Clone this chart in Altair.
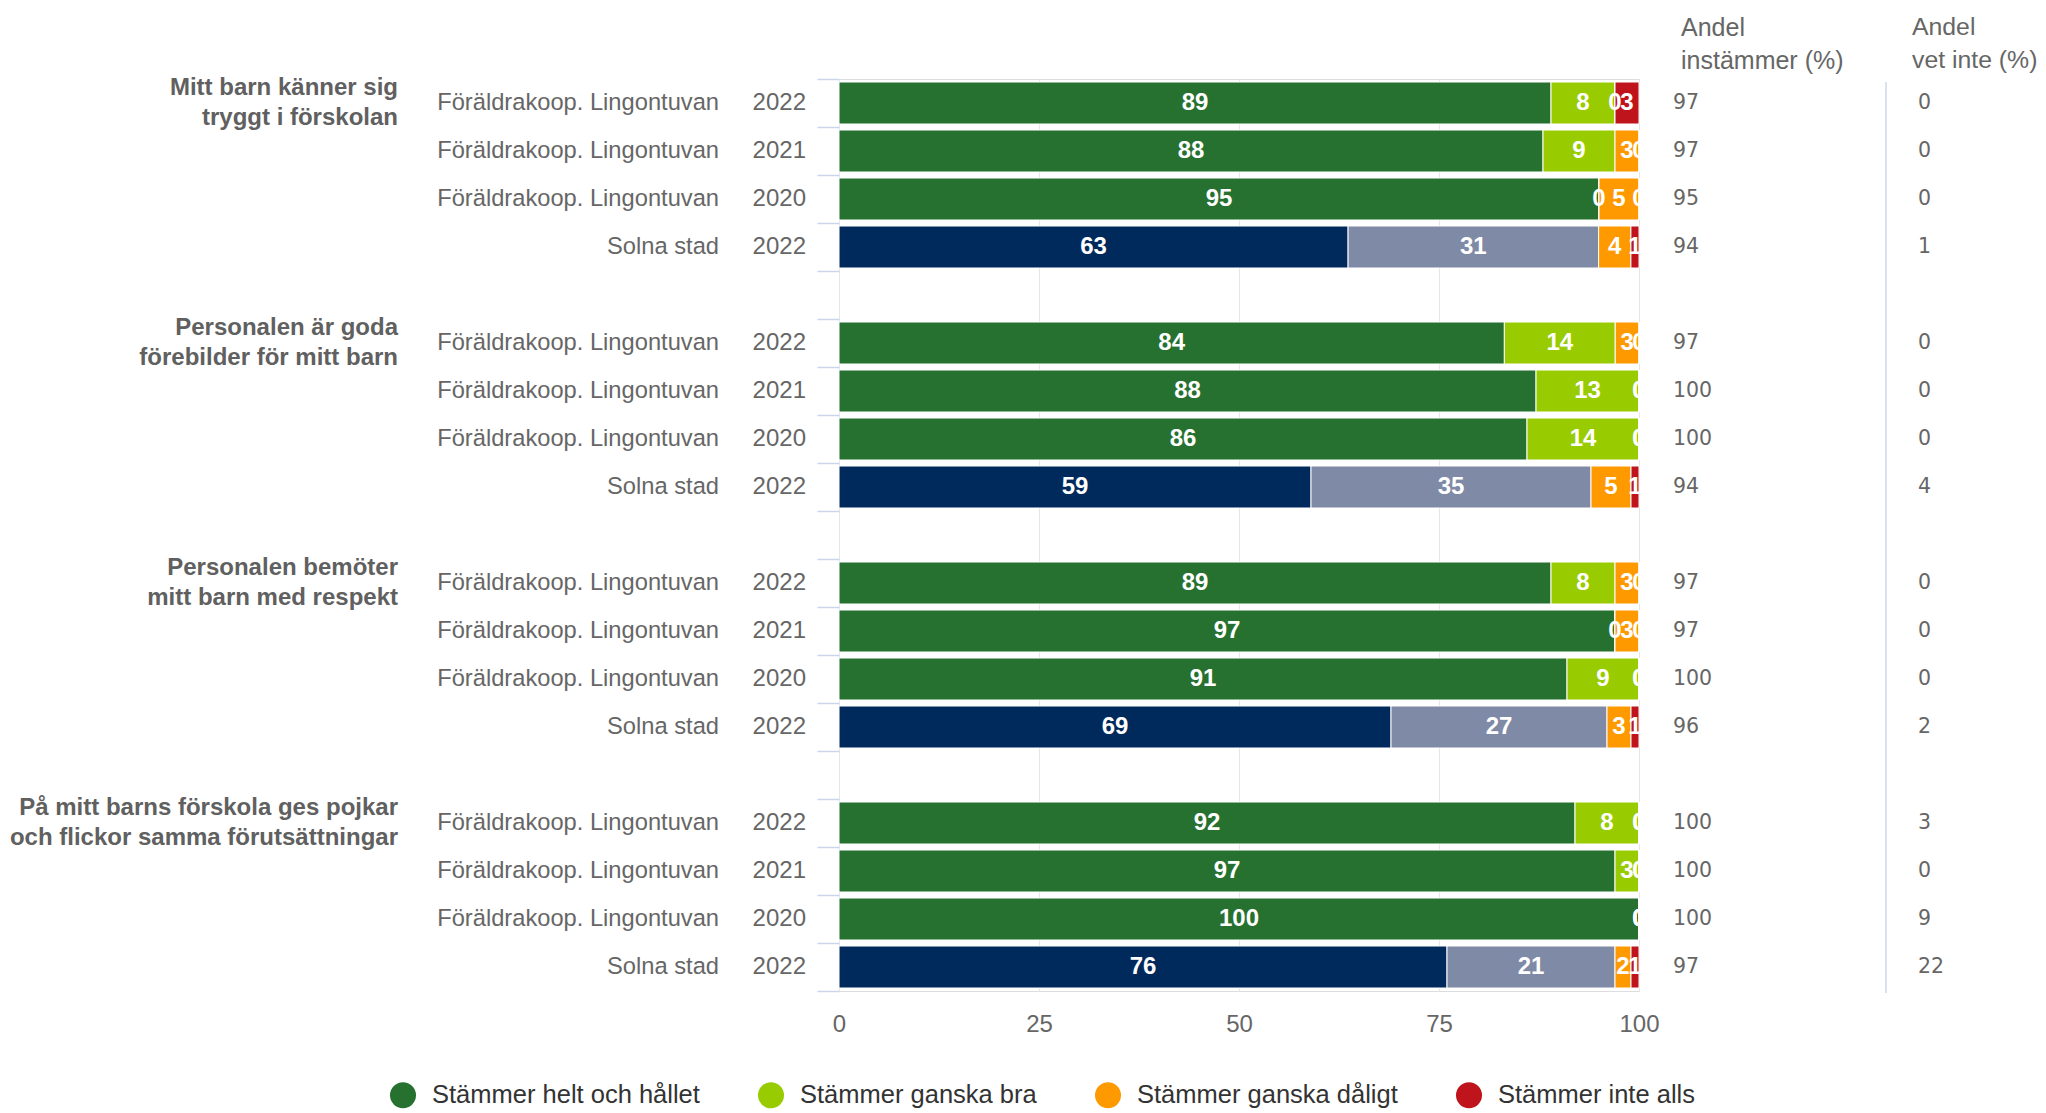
import altair as alt
import pandas as pd

# ---------------- data ----------------
questions = [
    "Mitt barn känner sig\ntryggt i förskolan",
    "Personalen är goda\nförebilder för mitt barn",
    "Personalen bemöter\nmitt barn med respekt",
    "På mitt barns förskola ges pojkar\noch flickor samma förutsättningar",
]
units = ["Föräldrakoop. Lingontuvan", "Föräldrakoop. Lingontuvan", "Föräldrakoop. Lingontuvan", "Solna stad"]
years = ["2022", "2021", "2020", "2022"]
categories = ["Stämmer helt och hållet", "Stämmer ganska bra", "Stämmer ganska dåligt", "Stämmer inte alls"]
solna_keys = ["Solna helt och hållet", "Solna ganska bra"]

helt = [89, 88, 95, 63, 84, 88, 86, 59, 89, 97, 91, 69, 92, 97, 100, 76]
bra = [8, 9, 0, 31, 14, 13, 14, 35, 8, 0, 9, 27, 8, 3, 0, 21]
daligt = [0, 3, 5, 4, 3, 0, 0, 5, 3, 3, 0, 3, 0, 0, 0, 2]
inte = [3, 0, 0, 1, 0, 0, 0, 1, 0, 0, 0, 1, 0, 0, 0, 1]
instammer = [97, 97, 95, 94, 97, 100, 100, 94, 97, 97, 100, 96, 100, 100, 100, 97]
vet_inte = [0, 0, 0, 1, 0, 0, 0, 4, 0, 0, 0, 2, 3, 0, 9, 22]

header_instammer = "Andel\ninstämmer (%)"
header_vetinte = "Andel\nvet inte (%)"
x_ticks = [0, 25, 50, 75, 100]

colors = ["#26712f", "#99cc00", "#ff9900", "#c0141c", "#002a5c", "#7f8aa6"]

# ---------------- tables ----------------
seg_rows, row_rows, q_rows = [], [], []
for i in range(16):
    g, r = divmod(i, 4)
    slot = g * 5 + r
    vals = [helt[i], bra[i], daligt[i], inte[i]]
    total = sum(vals)
    cum = 0.0
    for k, v in enumerate(vals):
        key = categories[k]
        if r == 3 and k < 2:
            key = solna_keys[k]
        x0 = cum / total * 100
        cum += v
        x1 = cum / total * 100
        seg_rows.append(dict(slot=slot, key=key, value=v, x0=x0, x1=x1, xm=(x0 + x1) / 2, order=k))
    row_rows.append(dict(slot=slot, unit=units[r], year=years[r], inst=instammer[i], vet=vet_inte[i]))
for g, q in enumerate(questions):
    q_rows.append(dict(slot=g * 5, q=q))

seg = pd.DataFrame(seg_rows)
rows = pd.DataFrame(row_rows)
qdf = pd.DataFrame(q_rows)

# ---------------- encodings ----------------
y_scale = alt.Scale(domain=[-0.5, 18.5], reverse=True, nice=False, zero=False, padding=0)
y_axis = alt.Axis(values=[v - 0.5 for v in range(20)], labels=False, ticks=True, tickSize=22,
                  tickColor="#ccd6eb", tickWidth=1.5, domain=False, grid=False, title=None)
y_enc = alt.Y("slot:Q", scale=y_scale, axis=y_axis)

x_scale = alt.Scale(domain=[0, 100], nice=False, zero=True, padding=0)
x_axis = alt.Axis(values=x_ticks, grid=True, gridColor="#e6e6e6", domain=False, ticks=False,
                  labelFontSize=24, labelColor="#666666", labelPadding=21, title=None,
                  labelFont="Liberation Sans", labelFlush=False)

FONT = "Liberation Sans"

bars = alt.Chart(seg).mark_bar(size=42, orient="horizontal", stroke="white", strokeWidth=1).encode(
    x=alt.X("x0:Q", scale=x_scale, axis=x_axis),
    x2="x1:Q",
    y=y_enc,
    color=alt.Color(
        "key:N",
        scale=alt.Scale(domain=categories + solna_keys, range=colors),
        legend=alt.Legend(
            values=categories, orient="none", legendX=-449, legendY=1003,
            direction="horizontal", title=None, symbolType="circle", symbolSize=676,
            symbolStrokeWidth=0, labelFontSize=25.5, labelColor="#333333", labelFont=FONT,
            labelOffset=16, columnPadding=58, labelLimit=600,
        ),
    ),
    order="order:Q",
)

seg_labels = alt.Chart(seg).mark_text(color="white", fontWeight="bold", fontSize=24, font=FONT,
                                      clip=True, baseline="middle").encode(
    x=alt.X("xm:Q", scale=x_scale, axis=x_axis),
    y=y_enc,
    text="value:Q",
)

unit_text = alt.Chart(rows).mark_text(align="right", baseline="middle", fontSize=23.7,
                                      color="#666666", font=FONT).encode(
    x=alt.value(-120), y=y_enc, text="unit:N")

year_text = alt.Chart(rows).mark_text(align="right", baseline="middle", fontSize=24,
                                      color="#666666", font=FONT).encode(
    x=alt.value(-33), y=y_enc, text="year:N")

q_text = alt.Chart(qdf).mark_text(align="right", baseline="middle", fontSize=24, fontWeight="bold",
                                  color="#606060", font=FONT, lineBreak="\n", lineHeight=30,
                                  dy=-15).encode(
    x=alt.value(-441), y=y_enc, text="q:N")

inst_text = alt.Chart(rows).mark_text(align="left", baseline="middle", fontSize=20.5,
                                      color="#666666", font="DejaVu Sans").encode(
    x=alt.value(834), y=y_enc, text="inst:Q")

vet_text = alt.Chart(rows).mark_text(align="left", baseline="middle", fontSize=20.5,
                                     color="#666666", font="DejaVu Sans").encode(
    x=alt.value(1079), y=y_enc, text="vet:Q")

hdr1 = alt.Chart(pd.DataFrame({"t": [header_instammer]})).mark_text(
    align="left", baseline="middle", fontSize=25, color="#666666", font=FONT,
    lineBreak="\n", lineHeight=33).encode(x=alt.value(842), y=alt.value(-51), text="t:N")

hdr2 = alt.Chart(pd.DataFrame({"t": [header_vetinte]})).mark_text(
    align="left", baseline="middle", fontSize=24.8, color="#666666", font=FONT,
    lineBreak="\n", lineHeight=33).encode(x=alt.value(1073), y=alt.value(-51), text="t:N")

divider = alt.Chart(pd.DataFrame({"a": [0]})).mark_rule(color="#ccd6eb", strokeWidth=1.5).encode(
    x=alt.value(1047), y=alt.value(3), y2=alt.value(914))

chart = alt.layer(
    bars, seg_labels, unit_text, year_text, q_text, inst_text, vet_text, hdr1, hdr2, divider
).properties(
    width=800, height=912,
    autosize=alt.AutoSizeParams(type="none"),
    padding={"left": 831, "top": 71, "right": 399, "bottom": 119},
).configure_view(stroke=None).configure(font=FONT, background="white")

chart.save("out.html", embed_options={"renderer": "svg", "actions": False})
